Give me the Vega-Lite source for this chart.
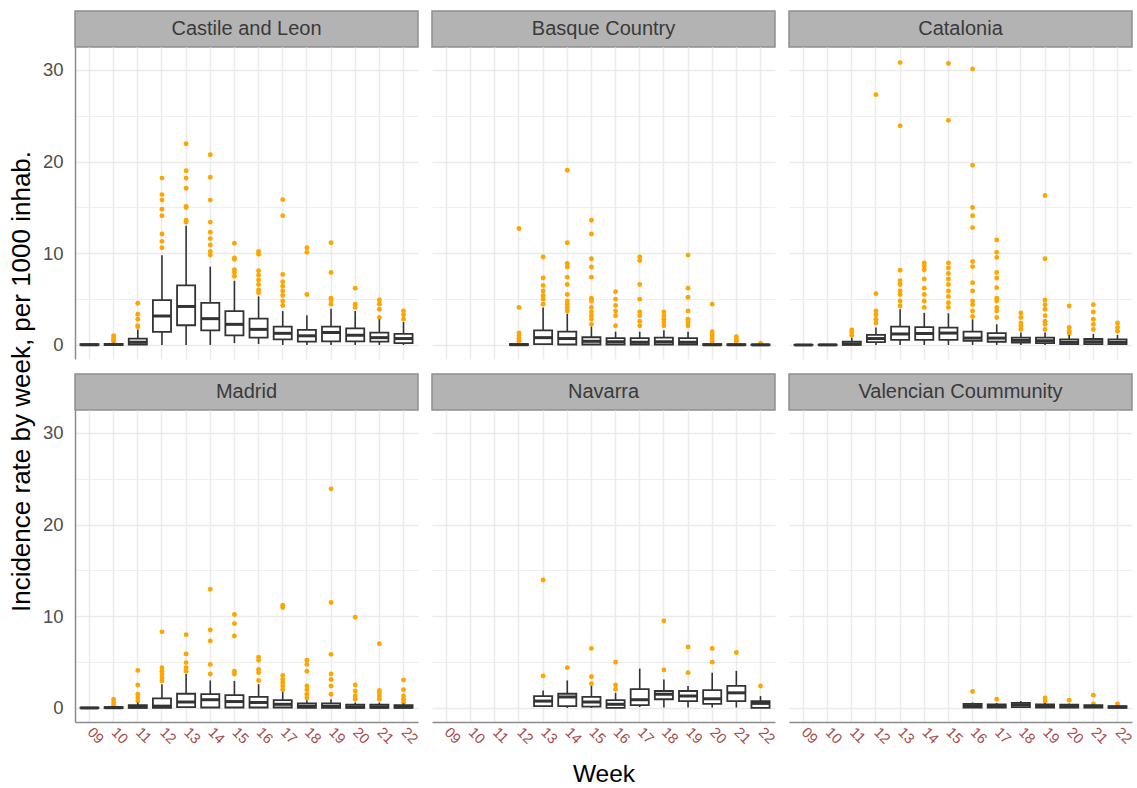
{
"$schema": "https://vega.github.io/schema/vega-lite/v6.json",
"background": "white",
"padding": {"left": 8, "top": 10, "right": 0, "bottom": 0},
"config": {"font": "Liberation Sans", "view": {"stroke": null}},
"datasets": {
"boxes": [
{"r":"Castile and Leon","w":"09","lo":0,"q1":0,"med":0.02,"q3":0.08,"hi":0.15,"out":[]},
{"r":"Castile and Leon","w":"10","lo":0,"q1":0,"med":0.05,"q3":0.12,"hi":0.25,"out":[0.4,0.6,0.8,1.0]},
{"r":"Castile and Leon","w":"11","lo":0,"q1":0.05,"med":0.3,"q3":0.7,"hi":1.7,"out":[2.0,2.1,2.8,3.35,4.55]},
{"r":"Castile and Leon","w":"12","lo":0,"q1":1.42,"med":3.16,"q3":4.9,"hi":9.78,"out":[10.6,11.3,12.1,14.1,14.8,15.8,16.4,18.2]},
{"r":"Castile and Leon","w":"13","lo":0,"q1":2.15,"med":4.2,"q3":6.5,"hi":13.0,"out":[13.4,13.6,15.0,15.1,17.1,18.2,19.0,21.95]},
{"r":"Castile and Leon","w":"14","lo":0,"q1":1.6,"med":2.87,"q3":4.6,"hi":8.54,"out":[9.8,10.2,10.9,11.6,12.3,13.4,15.8,18.3,20.75]},
{"r":"Castile and Leon","w":"15","lo":0.2,"q1":1.05,"med":2.25,"q3":3.7,"hi":7.0,"out":[7.5,7.9,8.2,9.35,9.5,11.1]},
{"r":"Castile and Leon","w":"16","lo":0.1,"q1":0.8,"med":1.7,"q3":2.87,"hi":5.3,"out":[5.7,6.0,6.6,7.1,7.6,8.1,9.9,10.2]},
{"r":"Castile and Leon","w":"17","lo":0,"q1":0.62,"med":1.27,"q3":2.0,"hi":3.7,"out":[4.3,4.8,5.4,5.9,6.4,6.9,7.7,14.1,15.85]},
{"r":"Castile and Leon","w":"18","lo":0,"q1":0.36,"med":1.0,"q3":1.64,"hi":3.24,"out":[5.5,10.1,10.6]},
{"r":"Castile and Leon","w":"19","lo":0,"q1":0.4,"med":1.35,"q3":2.0,"hi":3.96,"out":[4.45,4.9,5.1,7.9,11.15]},
{"r":"Castile and Leon","w":"20","lo":0,"q1":0.4,"med":1.06,"q3":1.8,"hi":3.7,"out":[4.1,4.45,6.2]},
{"r":"Castile and Leon","w":"21","lo":0,"q1":0.36,"med":0.8,"q3":1.35,"hi":2.8,"out":[3.0,3.9,4.45,4.9]},
{"r":"Castile and Leon","w":"22","lo":0,"q1":0.2,"med":0.7,"q3":1.2,"hi":2.5,"out":[2.8,3.3,3.7]},
{"r":"Basque Country","w":"12","lo":0,"q1":0,"med":0.03,"q3":0.1,"hi":0.2,"out":[0.4,0.7,1.0,1.3,4.1,12.7]},
{"r":"Basque Country","w":"13","lo":0,"q1":0.1,"med":0.8,"q3":1.6,"hi":4.1,"out":[4.45,5.0,5.4,5.9,6.5,7.3,9.6]},
{"r":"Basque Country","w":"14","lo":0,"q1":0.05,"med":0.7,"q3":1.45,"hi":3.4,"out":[3.7,4.1,4.45,4.8,5.5,6.6,7.4,8.5,8.9,11.15,19.05]},
{"r":"Basque Country","w":"15","lo":0,"q1":0.05,"med":0.4,"q3":0.84,"hi":2.0,"out":[2.25,2.8,3.2,3.6,4.1,4.8,5.1,7.4,8.5,9.4,12.1,13.6]},
{"r":"Basque Country","w":"16","lo":0,"q1":0.05,"med":0.35,"q3":0.75,"hi":1.45,"out":[2.1,3.2,3.7,4.3,5.0,5.8]},
{"r":"Basque Country","w":"17","lo":0,"q1":0.05,"med":0.3,"q3":0.75,"hi":1.45,"out":[2.1,2.6,3.2,3.6,5.0,6.6,9.2,9.6]},
{"r":"Basque Country","w":"18","lo":0,"q1":0.05,"med":0.35,"q3":0.8,"hi":1.6,"out":[2.1,2.5,2.8,3.2,3.6]},
{"r":"Basque Country","w":"19","lo":0,"q1":0.05,"med":0.3,"q3":0.75,"hi":1.45,"out":[2.1,2.5,2.8,3.7,5.2,6.2,9.8]},
{"r":"Basque Country","w":"20","lo":0,"q1":0,"med":0.02,"q3":0.1,"hi":0.2,"out":[0.4,0.8,1.1,1.45,4.45]},
{"r":"Basque Country","w":"21","lo":0,"q1":0,"med":0.02,"q3":0.08,"hi":0.15,"out":[0.4,0.6,0.9]},
{"r":"Basque Country","w":"22","lo":0,"q1":0,"med":0.01,"q3":0.05,"hi":0.1,"out":[0.2]},
{"r":"Catalonia","w":"09","lo":0,"q1":0,"med":0,"q3":0.02,"hi":0.05,"out":[]},
{"r":"Catalonia","w":"10","lo":0,"q1":0,"med":0.01,"q3":0.03,"hi":0.05,"out":[]},
{"r":"Catalonia","w":"11","lo":0,"q1":0.02,"med":0.1,"q3":0.35,"hi":0.8,"out":[1.05,1.4,1.65]},
{"r":"Catalonia","w":"12","lo":0,"q1":0.3,"med":0.7,"q3":1.1,"hi":1.9,"out":[2.4,2.8,3.3,3.7,5.6,27.3]},
{"r":"Catalonia","w":"13","lo":0,"q1":0.55,"med":1.2,"q3":2.0,"hi":3.9,"out":[4.25,4.8,5.5,5.9,6.6,7.0,8.15,23.9,30.8]},
{"r":"Catalonia","w":"14","lo":0,"q1":0.55,"med":1.25,"q3":1.95,"hi":3.5,"out":[4.1,4.8,5.5,6.2,7.2,8.2,8.6,8.95]},
{"r":"Catalonia","w":"15","lo":0,"q1":0.55,"med":1.3,"q3":1.9,"hi":3.45,"out":[4.1,4.6,5.3,5.9,6.6,7.2,7.8,8.4,8.95,24.5,30.7]},
{"r":"Catalonia","w":"16","lo":0,"q1":0.45,"med":0.75,"q3":1.45,"hi":2.8,"out":[3.1,3.7,4.4,4.8,5.9,6.8,8.55,9.1,12.8,14.1,15.0,19.6,30.1]},
{"r":"Catalonia","w":"17","lo":0,"q1":0.35,"med":0.75,"q3":1.3,"hi":2.25,"out":[3.0,3.7,4.1,4.8,5.1,6.25,7.3,7.9,9.55,10.1,11.45]},
{"r":"Catalonia","w":"18","lo":0,"q1":0.25,"med":0.5,"q3":0.8,"hi":1.35,"out":[1.7,2.1,2.4,3.0,3.5]},
{"r":"Catalonia","w":"19","lo":0,"q1":0.2,"med":0.45,"q3":0.8,"hi":1.35,"out":[1.7,2.25,2.6,3.2,3.9,4.4,4.9,9.4,16.3]},
{"r":"Catalonia","w":"20","lo":0,"q1":0.1,"med":0.3,"q3":0.6,"hi":1.1,"out":[1.25,1.5,1.9,4.25]},
{"r":"Catalonia","w":"21","lo":0,"q1":0.1,"med":0.35,"q3":0.65,"hi":1.2,"out":[1.7,2.25,2.8,3.6,4.4]},
{"r":"Catalonia","w":"22","lo":0,"q1":0.1,"med":0.3,"q3":0.6,"hi":1.1,"out":[1.5,1.9,2.4]},
{"r":"Madrid","w":"09","lo":0,"q1":0,"med":0,"q3":0.03,"hi":0.05,"out":[]},
{"r":"Madrid","w":"10","lo":0,"q1":0,"med":0.03,"q3":0.1,"hi":0.2,"out":[0.3,0.6,0.95]},
{"r":"Madrid","w":"11","lo":0,"q1":0,"med":0.1,"q3":0.3,"hi":0.6,"out":[0.75,1.1,1.5,2.5,4.1]},
{"r":"Madrid","w":"12","lo":0,"q1":0,"med":0.2,"q3":1.05,"hi":2.6,"out":[2.95,3.3,3.7,4.0,4.4,8.3]},
{"r":"Madrid","w":"13","lo":0,"q1":0.1,"med":0.65,"q3":1.55,"hi":3.7,"out":[4.0,4.4,4.95,5.9,8.0]},
{"r":"Madrid","w":"14","lo":0,"q1":0.05,"med":0.9,"q3":1.5,"hi":3.0,"out":[3.7,4.75,7.3,8.5,12.95]},
{"r":"Madrid","w":"15","lo":0,"q1":0.05,"med":0.7,"q3":1.4,"hi":2.95,"out":[3.7,4.0,7.85,9.2,10.2]},
{"r":"Madrid","w":"16","lo":0,"q1":0.05,"med":0.6,"q3":1.2,"hi":2.6,"out":[3.0,3.85,4.2,5.2,5.55]},
{"r":"Madrid","w":"17","lo":0,"q1":0.05,"med":0.4,"q3":0.85,"hi":1.75,"out":[2.0,2.4,2.75,3.1,3.55,10.95,11.2]},
{"r":"Madrid","w":"18","lo":0,"q1":0,"med":0.2,"q3":0.5,"hi":0.85,"out":[1.1,1.5,2.0,2.4,4.0,4.75,5.2]},
{"r":"Madrid","w":"19","lo":0,"q1":0,"med":0.2,"q3":0.5,"hi":0.95,"out":[1.5,2.4,3.1,3.7,5.85,11.5,23.9]},
{"r":"Madrid","w":"20","lo":0,"q1":0,"med":0.1,"q3":0.35,"hi":0.6,"out":[0.95,1.3,1.85,2.5,9.9]},
{"r":"Madrid","w":"21","lo":0,"q1":0,"med":0.1,"q3":0.35,"hi":0.6,"out":[0.95,1.3,1.65,1.9,7.0]},
{"r":"Madrid","w":"22","lo":0,"q1":0,"med":0.1,"q3":0.3,"hi":0.5,"out":[0.6,0.95,1.3,2.0,3.05]},
{"r":"Navarra","w":"13","lo":0.1,"q1":0.2,"med":0.75,"q3":1.3,"hi":1.9,"out":[3.5,13.95]},
{"r":"Navarra","w":"14","lo":0,"q1":0.2,"med":1.2,"q3":1.55,"hi":3.0,"out":[4.4]},
{"r":"Navarra","w":"15","lo":0,"q1":0.15,"med":0.65,"q3":1.2,"hi":2.4,"out":[2.65,3.4,6.5]},
{"r":"Navarra","w":"16","lo":0,"q1":0,"med":0.4,"q3":0.85,"hi":1.65,"out":[2.05,2.5,5.0]},
{"r":"Navarra","w":"17","lo":0.1,"q1":0.3,"med":0.9,"q3":2.05,"hi":4.3,"out":[]},
{"r":"Navarra","w":"18","lo":0.05,"q1":0.95,"med":1.5,"q3":1.85,"hi":3.1,"out":[4.15,9.5]},
{"r":"Navarra","w":"19","lo":0.05,"q1":0.75,"med":1.3,"q3":1.85,"hi":2.4,"out":[3.85,6.65]},
{"r":"Navarra","w":"20","lo":0.05,"q1":0.45,"med":1.0,"q3":1.95,"hi":3.85,"out":[5.0,6.5]},
{"r":"Navarra","w":"21","lo":0.05,"q1":0.75,"med":1.65,"q3":2.4,"hi":4.05,"out":[6.05]},
{"r":"Navarra","w":"22","lo":0,"q1":0,"med":0.5,"q3":0.75,"hi":1.3,"out":[2.4]},
{"r":"Valencian Coummunity","w":"16","lo":0,"q1":0.05,"med":0.25,"q3":0.45,"hi":0.6,"out":[1.8]},
{"r":"Valencian Coummunity","w":"17","lo":0,"q1":0.05,"med":0.2,"q3":0.4,"hi":0.55,"out":[0.95]},
{"r":"Valencian Coummunity","w":"18","lo":0,"q1":0.1,"med":0.35,"q3":0.55,"hi":0.75,"out":[]},
{"r":"Valencian Coummunity","w":"19","lo":0,"q1":0.05,"med":0.2,"q3":0.4,"hi":0.55,"out":[0.75,1.1]},
{"r":"Valencian Coummunity","w":"20","lo":0,"q1":0.03,"med":0.15,"q3":0.35,"hi":0.5,"out":[0.85]},
{"r":"Valencian Coummunity","w":"21","lo":0,"q1":0.03,"med":0.15,"q3":0.3,"hi":0.4,"out":[0.45,1.4]},
{"r":"Valencian Coummunity","w":"22","lo":0,"q1":0,"med":0.1,"q3":0.2,"hi":0.3,"out":[0.45]}
]
},
"columns": 3,
"spacing": {"row": 0, "column": 14},
"bounds": "flush",
"concat": [
{"width": 343, "height": 36, "view": {"fill": "#b3b3b3", "stroke": "#8f8f8f", "strokeWidth": 1.5}, "data": {"values": [{"label": "Castile and Leon"}]}, "mark": {"type": "text", "fontSize": 20, "color": "#3a3a3a"}, "encoding": {"text": {"field": "label"}}},
{"width": 343, "height": 36, "view": {"fill": "#b3b3b3", "stroke": "#8f8f8f", "strokeWidth": 1.5}, "data": {"values": [{"label": "Basque Country"}]}, "mark": {"type": "text", "fontSize": 20, "color": "#3a3a3a"}, "encoding": {"text": {"field": "label"}}},
{"width": 343, "height": 36, "view": {"fill": "#b3b3b3", "stroke": "#8f8f8f", "strokeWidth": 1.5}, "data": {"values": [{"label": "Catalonia"}]}, "mark": {"type": "text", "fontSize": 20, "color": "#3a3a3a"}, "encoding": {"text": {"field": "label"}}},

{"width": 343, "height": 312, "data": {"name": "boxes"}, "transform": [{"filter": "datum.r === 'Castile and Leon'"}],
 "encoding": {"x": {"field": "w", "type": "ordinal", "scale": {"domain": ["09","10","11","12","13","14","15","16","17","18","19","20","21","22"], "paddingInner": 0, "paddingOuter": 0.1},
   "axis": {"grid": true, "gridColor": "#ebebeb", "gridWidth": 1.5, "labels": false, "ticks": false, "domain": false, "title": null}}},
 "layer": [
  {"transform": [{"flatten": ["out"]}], "mark": {"type": "circle", "color": "#FFA500", "size": 24, "opacity": 1},
   "encoding": {"y": {"field": "out", "type": "quantitative", "scale": {"domain": [-1.53, 32.5], "nice": false, "zero": false},
     "axis": {"values": [0,5,10,15,20,25,30], "labelExpr": "datum.value % 10 === 0 ? datum.label : ''", "grid": true, "gridColor": "#ebebeb", "gridWidth": {"condition": {"test": "datum.value % 10 === 5", "value": 0.8}, "value": 1.5}, "ticks": false, "domain": true, "domainColor": "#8c8c8c", "domainWidth": 1.5, "labelFontSize": 18.5, "labelColor": "#4d4d4d", "labelPadding": 12,
       "title": "Incidence rate by week, per 1000 inhab.", "titleFontSize": 26, "titleFontWeight": "normal", "titleColor": "#000000", "titleY": 334, "titlePadding": 8}}}},
  {"mark": {"type": "rule", "color": "#333333", "strokeWidth": 1.6}, "encoding": {"y": {"field": "lo", "type": "quantitative", "scale": {"domain": [-1.53, 32.5], "nice": false, "zero": false}}, "y2": {"field": "hi"}}},
  {"mark": {"type": "bar", "fill": "white", "stroke": "#333333", "strokeWidth": 1.8, "width": {"band": 0.75}}, "encoding": {"y": {"field": "q1", "type": "quantitative", "scale": {"domain": [-1.53, 32.5], "nice": false, "zero": false}}, "y2": {"field": "q3"}}},
  {"mark": {"type": "tick", "color": "#333333", "opacity": 1, "thickness": 3, "size": 18}, "encoding": {"y": {"field": "med", "type": "quantitative", "scale": {"domain": [-1.53, 32.5], "nice": false, "zero": false}}}}
 ]},

{"width": 343, "height": 312, "data": {"name": "boxes"}, "transform": [{"filter": "datum.r === 'Basque Country'"}],
 "encoding": {"x": {"field": "w", "type": "ordinal", "scale": {"domain": ["09","10","11","12","13","14","15","16","17","18","19","20","21","22"], "paddingInner": 0, "paddingOuter": 0.1},
   "axis": {"grid": true, "gridColor": "#ebebeb", "gridWidth": 1.5, "labels": false, "ticks": false, "domain": false, "title": null}}},
 "layer": [
  {"transform": [{"flatten": ["out"]}], "mark": {"type": "circle", "color": "#FFA500", "size": 24, "opacity": 1},
   "encoding": {"y": {"field": "out", "type": "quantitative", "scale": {"domain": [-1.53, 32.5], "nice": false, "zero": false},
     "axis": {"values": [0,5,10,15,20,25,30], "grid": true, "gridColor": "#ebebeb", "gridWidth": {"condition": {"test": "datum.value % 10 === 5", "value": 0.8}, "value": 1.5}, "labels": false, "ticks": false, "domain": false, "title": null}}}},
  {"mark": {"type": "rule", "color": "#333333", "strokeWidth": 1.6}, "encoding": {"y": {"field": "lo", "type": "quantitative", "scale": {"domain": [-1.53, 32.5], "nice": false, "zero": false}}, "y2": {"field": "hi"}}},
  {"mark": {"type": "bar", "fill": "white", "stroke": "#333333", "strokeWidth": 1.8, "width": {"band": 0.75}}, "encoding": {"y": {"field": "q1", "type": "quantitative", "scale": {"domain": [-1.53, 32.5], "nice": false, "zero": false}}, "y2": {"field": "q3"}}},
  {"mark": {"type": "tick", "color": "#333333", "opacity": 1, "thickness": 3, "size": 18}, "encoding": {"y": {"field": "med", "type": "quantitative", "scale": {"domain": [-1.53, 32.5], "nice": false, "zero": false}}}}
 ]},

{"width": 343, "height": 312, "data": {"name": "boxes"}, "transform": [{"filter": "datum.r === 'Catalonia'"}],
 "encoding": {"x": {"field": "w", "type": "ordinal", "scale": {"domain": ["09","10","11","12","13","14","15","16","17","18","19","20","21","22"], "paddingInner": 0, "paddingOuter": 0.1},
   "axis": {"grid": true, "gridColor": "#ebebeb", "gridWidth": 1.5, "labels": false, "ticks": false, "domain": false, "title": null}}},
 "layer": [
  {"transform": [{"flatten": ["out"]}], "mark": {"type": "circle", "color": "#FFA500", "size": 24, "opacity": 1},
   "encoding": {"y": {"field": "out", "type": "quantitative", "scale": {"domain": [-1.53, 32.5], "nice": false, "zero": false},
     "axis": {"values": [0,5,10,15,20,25,30], "grid": true, "gridColor": "#ebebeb", "gridWidth": {"condition": {"test": "datum.value % 10 === 5", "value": 0.8}, "value": 1.5}, "labels": false, "ticks": false, "domain": false, "title": null}}}},
  {"mark": {"type": "rule", "color": "#333333", "strokeWidth": 1.6}, "encoding": {"y": {"field": "lo", "type": "quantitative", "scale": {"domain": [-1.53, 32.5], "nice": false, "zero": false}}, "y2": {"field": "hi"}}},
  {"mark": {"type": "bar", "fill": "white", "stroke": "#333333", "strokeWidth": 1.8, "width": {"band": 0.75}}, "encoding": {"y": {"field": "q1", "type": "quantitative", "scale": {"domain": [-1.53, 32.5], "nice": false, "zero": false}}, "y2": {"field": "q3"}}},
  {"mark": {"type": "tick", "color": "#333333", "opacity": 1, "thickness": 3, "size": 18}, "encoding": {"y": {"field": "med", "type": "quantitative", "scale": {"domain": [-1.53, 32.5], "nice": false, "zero": false}}}}
 ]},

{"width": 343, "height": 15, "data": {"values": [{"label": ""}]}, "mark": {"type": "text"}, "encoding": {"text": {"field": "label"}}},
{"width": 343, "height": 15, "data": {"values": [{"label": ""}]}, "mark": {"type": "text"}, "encoding": {"text": {"field": "label"}}},
{"width": 343, "height": 15, "data": {"values": [{"label": ""}]}, "mark": {"type": "text"}, "encoding": {"text": {"field": "label"}}},

{"width": 343, "height": 36, "view": {"fill": "#b3b3b3", "stroke": "#8f8f8f", "strokeWidth": 1.5}, "data": {"values": [{"label": "Madrid"}]}, "mark": {"type": "text", "fontSize": 20, "color": "#3a3a3a"}, "encoding": {"text": {"field": "label"}}},
{"width": 343, "height": 36, "view": {"fill": "#b3b3b3", "stroke": "#8f8f8f", "strokeWidth": 1.5}, "data": {"values": [{"label": "Navarra"}]}, "mark": {"type": "text", "fontSize": 20, "color": "#3a3a3a"}, "encoding": {"text": {"field": "label"}}},
{"width": 343, "height": 36, "view": {"fill": "#b3b3b3", "stroke": "#8f8f8f", "strokeWidth": 1.5}, "data": {"values": [{"label": "Valencian Coummunity"}]}, "mark": {"type": "text", "fontSize": 20, "color": "#3a3a3a"}, "encoding": {"text": {"field": "label"}}},

{"width": 343, "height": 312, "data": {"name": "boxes"}, "transform": [{"filter": "datum.r === 'Madrid'"}],
 "encoding": {"x": {"field": "w", "type": "ordinal", "scale": {"domain": ["09","10","11","12","13","14","15","16","17","18","19","20","21","22"], "paddingInner": 0, "paddingOuter": 0.1},
   "axis": {"grid": true, "gridColor": "#ebebeb", "gridWidth": 1.5, "ticks": false, "domain": true, "domainColor": "#8c8c8c", "domainWidth": 1.5, "labelAngle": 45, "labelAlign": "left", "labelBaseline": "middle", "labelColor": "#a64b4b", "labelFontSize": 14.5, "labelPadding": 8, "title": null}}},
 "layer": [
  {"transform": [{"flatten": ["out"]}], "mark": {"type": "circle", "color": "#FFA500", "size": 24, "opacity": 1},
   "encoding": {"y": {"field": "out", "type": "quantitative", "scale": {"domain": [-1.53, 32.5], "nice": false, "zero": false},
     "axis": {"values": [0,5,10,15,20,25,30], "labelExpr": "datum.value % 10 === 0 ? datum.label : ''", "grid": true, "gridColor": "#ebebeb", "gridWidth": {"condition": {"test": "datum.value % 10 === 5", "value": 0.8}, "value": 1.5}, "ticks": false, "domain": true, "domainColor": "#8c8c8c", "domainWidth": 1.5, "labelFontSize": 18.5, "labelColor": "#4d4d4d", "labelPadding": 12, "title": null}}}},
  {"mark": {"type": "rule", "color": "#333333", "strokeWidth": 1.6}, "encoding": {"y": {"field": "lo", "type": "quantitative", "scale": {"domain": [-1.53, 32.5], "nice": false, "zero": false}}, "y2": {"field": "hi"}}},
  {"mark": {"type": "bar", "fill": "white", "stroke": "#333333", "strokeWidth": 1.8, "width": {"band": 0.75}}, "encoding": {"y": {"field": "q1", "type": "quantitative", "scale": {"domain": [-1.53, 32.5], "nice": false, "zero": false}}, "y2": {"field": "q3"}}},
  {"mark": {"type": "tick", "color": "#333333", "opacity": 1, "thickness": 3, "size": 18}, "encoding": {"y": {"field": "med", "type": "quantitative", "scale": {"domain": [-1.53, 32.5], "nice": false, "zero": false}}}}
 ]},

{"width": 343, "height": 312, "data": {"name": "boxes"}, "transform": [{"filter": "datum.r === 'Navarra'"}],
 "encoding": {"x": {"field": "w", "type": "ordinal", "scale": {"domain": ["09","10","11","12","13","14","15","16","17","18","19","20","21","22"], "paddingInner": 0, "paddingOuter": 0.1},
   "axis": {"grid": true, "gridColor": "#ebebeb", "gridWidth": 1.5, "ticks": false, "domain": true, "domainColor": "#8c8c8c", "domainWidth": 1.5, "labelAngle": 45, "labelAlign": "left", "labelBaseline": "middle", "labelColor": "#a64b4b", "labelFontSize": 14.5, "labelPadding": 8,
     "title": "Week", "titleFontSize": 24.5, "titleFontWeight": "normal", "titleColor": "#000000", "titlePadding": 16}}},
 "layer": [
  {"transform": [{"flatten": ["out"]}], "mark": {"type": "circle", "color": "#FFA500", "size": 24, "opacity": 1},
   "encoding": {"y": {"field": "out", "type": "quantitative", "scale": {"domain": [-1.53, 32.5], "nice": false, "zero": false},
     "axis": {"values": [0,5,10,15,20,25,30], "grid": true, "gridColor": "#ebebeb", "gridWidth": {"condition": {"test": "datum.value % 10 === 5", "value": 0.8}, "value": 1.5}, "labels": false, "ticks": false, "domain": false, "title": null}}}},
  {"mark": {"type": "rule", "color": "#333333", "strokeWidth": 1.6}, "encoding": {"y": {"field": "lo", "type": "quantitative", "scale": {"domain": [-1.53, 32.5], "nice": false, "zero": false}}, "y2": {"field": "hi"}}},
  {"mark": {"type": "bar", "fill": "white", "stroke": "#333333", "strokeWidth": 1.8, "width": {"band": 0.75}}, "encoding": {"y": {"field": "q1", "type": "quantitative", "scale": {"domain": [-1.53, 32.5], "nice": false, "zero": false}}, "y2": {"field": "q3"}}},
  {"mark": {"type": "tick", "color": "#333333", "opacity": 1, "thickness": 3, "size": 18}, "encoding": {"y": {"field": "med", "type": "quantitative", "scale": {"domain": [-1.53, 32.5], "nice": false, "zero": false}}}}
 ]},

{"width": 343, "height": 312, "data": {"name": "boxes"}, "transform": [{"filter": "datum.r === 'Valencian Coummunity'"}],
 "encoding": {"x": {"field": "w", "type": "ordinal", "scale": {"domain": ["09","10","11","12","13","14","15","16","17","18","19","20","21","22"], "paddingInner": 0, "paddingOuter": 0.1},
   "axis": {"grid": true, "gridColor": "#ebebeb", "gridWidth": 1.5, "ticks": false, "domain": true, "domainColor": "#8c8c8c", "domainWidth": 1.5, "labelAngle": 45, "labelAlign": "left", "labelBaseline": "middle", "labelColor": "#a64b4b", "labelFontSize": 14.5, "labelPadding": 8, "title": null}}},
 "layer": [
  {"transform": [{"flatten": ["out"]}], "mark": {"type": "circle", "color": "#FFA500", "size": 24, "opacity": 1},
   "encoding": {"y": {"field": "out", "type": "quantitative", "scale": {"domain": [-1.53, 32.5], "nice": false, "zero": false},
     "axis": {"values": [0,5,10,15,20,25,30], "grid": true, "gridColor": "#ebebeb", "gridWidth": {"condition": {"test": "datum.value % 10 === 5", "value": 0.8}, "value": 1.5}, "labels": false, "ticks": false, "domain": false, "title": null}}}},
  {"mark": {"type": "rule", "color": "#333333", "strokeWidth": 1.6}, "encoding": {"y": {"field": "lo", "type": "quantitative", "scale": {"domain": [-1.53, 32.5], "nice": false, "zero": false}}, "y2": {"field": "hi"}}},
  {"mark": {"type": "bar", "fill": "white", "stroke": "#333333", "strokeWidth": 1.8, "width": {"band": 0.75}}, "encoding": {"y": {"field": "q1", "type": "quantitative", "scale": {"domain": [-1.53, 32.5], "nice": false, "zero": false}}, "y2": {"field": "q3"}}},
  {"mark": {"type": "tick", "color": "#333333", "opacity": 1, "thickness": 3, "size": 18}, "encoding": {"y": {"field": "med", "type": "quantitative", "scale": {"domain": [-1.53, 32.5], "nice": false, "zero": false}}}}
 ]}
]
}
